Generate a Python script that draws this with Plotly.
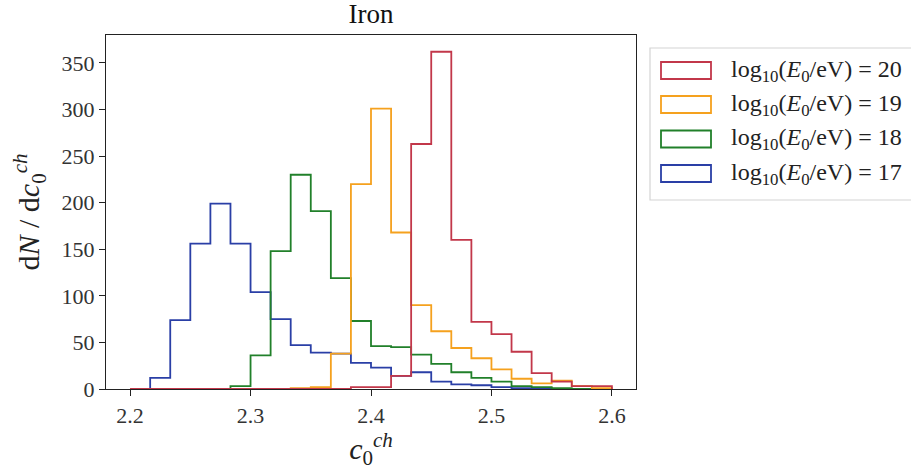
import numpy as np
import plotly.graph_objects as go

# histogram counts, 24 bins between 2.2 and 2.6
bin_start = 2.2
bin_stop = 2.6
n_bins = 24

counts_17 = [0, 12, 74, 156, 199, 156, 104, 75, 47, 39, 38, 28, 23, 14, 18, 8, 5, 4, 2, 1, 1, 0, 0, 0]
counts_18 = [0, 0, 0, 0, 0, 3, 36, 148, 230, 191, 119, 73, 46, 45, 37, 27, 18, 12, 8, 3, 2, 1, 0, 0]
counts_19 = [0, 0, 0, 0, 0, 0, 0, 0, 1, 2, 38, 220, 301, 168, 90, 62, 44, 33, 21, 11, 6, 9, 3, 1]
counts_20 = [0, 0, 0, 0, 0, 0, 0, 0, 0, 0, 0, 2, 2, 14, 263, 362, 160, 72, 59, 40, 17, 8, 3, 3]

energies = ["20", "19", "18", "17"]
colors = {"20": "#c2374a", "19": "#f5a11e", "18": "#21802a", "17": "#2a3fa6"}
series = {"17": counts_17, "18": counts_18, "19": counts_19, "20": counts_20}

xticks = [2.2, 2.3, 2.4, 2.5, 2.6]
yticks = [0, 50, 100, 150, 200, 250, 300, 350]

FONT = "Liberation Serif, Times New Roman, serif"
W, H = 911, 475
L, R, T, B = 106, 275, 35, 86

edges = np.linspace(bin_start, bin_stop, n_bins + 1)

fig = go.Figure()
for e in ["17", "18", "19", "20"]:
    c = series[e]
    xs = [edges[0]] + list(edges) + [edges[-1]]
    ys = [0] + list(c) + [c[-1], 0]
    fig.add_trace(go.Scatter(
        x=xs, y=ys, mode="lines", line_shape="hv",
        line=dict(color=colors[e], width=1.8),
        name="log10(E0/eV) = " + e, showlegend=False, hoverinfo="skip",
    ))

# legend drawn by hand (matplotlib style patch boxes)
pw = W - L - R
ph = H - T - B


def px_x(v):
    return (v - L) / pw


def px_y(v):
    return (H - B - v) / ph


fig.add_shape(type="rect", xref="paper", yref="paper",
              x0=px_x(650), x1=px_x(925), y0=px_y(200), y1=px_y(48),
              line=dict(color="#d4d4d4", width=1.2), fillcolor="white", layer="above")
row_y = [70.5, 104.5, 139, 173.5]
for e, yy in zip(energies, row_y):
    fig.add_shape(type="rect", xref="paper", yref="paper",
                  x0=px_x(661), x1=px_x(711), y0=px_y(yy + 8.5), y1=px_y(yy - 8.5),
                  line=dict(color=colors[e], width=1.8), fillcolor="white", layer="above")
    fig.add_annotation(xref="paper", yref="paper", x=px_x(729), y=px_y(yy),
                       xanchor="left", yanchor="middle", showarrow=False,
                       text="log<sub>10</sub>(<i>E</i><sub>0</sub>/eV) = " + e,
                       font=dict(family=FONT, size=24, color="#222"))

axis_common = dict(
    showline=True, linecolor="#222", linewidth=1.3, mirror=True,
    ticks="outside", ticklen=6, tickwidth=1.2, tickcolor="#222",
    showgrid=False, zeroline=False, automargin=False,
    tickfont=dict(family=FONT, size=22, color="#333"),
)

fig.update_layout(
    width=W, height=H,
    margin=dict(l=L, r=R, t=T, b=B, autoexpand=False),
    paper_bgcolor="white", plot_bgcolor="white",
    font=dict(family=FONT, size=22, color="#222"),
    title=dict(text="Iron", x=0.5, xref="paper", xanchor="center", y=1 - 14 / H, yanchor="middle",
               font=dict(family=FONT, size=27, color="#111")),
    xaxis=dict(range=[2.18, 2.62], tickvals=xticks, ticktext=[f"{t:.1f}" for t in xticks],
               title=dict(text="<i>c</i><sub>0</sub><sup><i>ch</i></sup>", standoff=4,
                          font=dict(family=FONT, size=30, color="#222")),
               **axis_common),
    yaxis=dict(range=[0, 380], tickvals=yticks,
               title=dict(text="d<i>N</i> / d<i>c</i><sub>0</sub><sup><i>ch</i></sup>", standoff=12,
                          font=dict(family=FONT, size=30, color="#222")),
               **axis_common),
    showlegend=False,
)

fig.write_html("out.html", config={"displayModeBar": False},
               post_script="document.body.style.margin='0';")
